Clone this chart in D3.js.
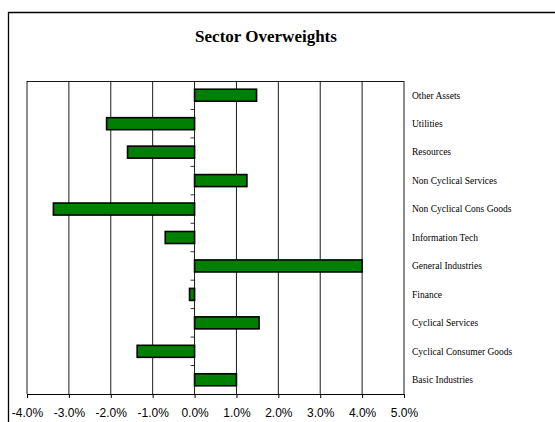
<!DOCTYPE html>
<html>
<head>
<meta charset="utf-8">
<script src="https://cdn.jsdelivr.net/npm/d3@7"></script>
<style>
  html, body { margin: 0; background: #fff; overflow: hidden; }
  svg { display: block; }
</style>
</head>
<body>
<div id="chart"></div>
<script>
// categories listed bottom to top as in the picture
const sectors = ["Basic Industries", "Cyclical Consumer Goods", "Cyclical Services", "Finance",
  "General Industries", "Information Tech", "Non Cyclical Cons Goods", "Non Cyclical Services",
  "Resources", "Utilities", "Other Assets"]
const overweights = [1.0, -1.37, 1.54, -0.12, 4.0, -0.7, -3.37, 1.25, -1.6, -2.1, 1.48]
const xTicks = [-4, -3, -2, -1, 0, 1, 2, 3, 4, 5]

const W = 555, H = 422
const margin = { top: 81, left: 27 }
const width = 404 - 27, height = 394 - 81

const svg = d3.select("#chart").append("svg")
  .attr("width", W)
  .attr("height", H)

// outer chart frame: only the top and left edges are in view
svg.append("path")
  .attr("d", `M8.5,${H} V12.5 H${W}`)
  .attr("fill", "none").attr("stroke", "#000").attr("stroke-width", 1.3)

svg.append("text")
  .attr("x", 266).attr("y", 42)
  .attr("text-anchor", "middle")
  .attr("font-family", "Liberation Serif, Times New Roman, serif")
  .attr("font-weight", "bold").attr("font-size", "17px")
  .text("Sector Overweights")

const g = svg.append("g").attr("transform", `translate(${margin.left},${margin.top})`)

const x = d3.scaleLinear().domain([-4, 5]).range([0, width])
const yb = d3.scaleBand().domain(sectors.slice().reverse()).range([0, height])

// gridlines
g.append("g")
  .selectAll("line")
  .data(xTicks)
  .join("line")
    .attr("x1", d => x(d)).attr("x2", d => x(d))
    .attr("y1", 0).attr("y2", height)
    .attr("stroke", "#000").attr("stroke-width", 0.9)

g.append("line")
  .attr("x1", 0).attr("x2", width).attr("y1", 0.5).attr("y2", 0.5)
  .attr("stroke", "#000").attr("stroke-width", 0.9)

// x axis
const xAxis = g.append("g")
  .attr("transform", `translate(0,${height})`)
  .call(d3.axisBottom(x).tickValues(xTicks).tickSize(4).tickPadding(10)
    .tickFormat(d => d.toFixed(1) + "%"))
xAxis.select(".domain").attr("stroke-width", 1)
xAxis.selectAll("text")
  .attr("font-family", "Liberation Sans, Arial, sans-serif")
  .attr("font-size", "12px")
  .attr("fill", "#000")

// category ticks on the zero line
g.append("g")
  .selectAll("line")
  .data(sectors.slice(1))
  .join("line")
    .attr("x1", x(0) - 4).attr("x2", x(0))
    .attr("y1", d => yb(d) + yb.bandwidth()).attr("y2", d => yb(d) + yb.bandwidth())
    .attr("stroke", "#000").attr("stroke-width", 0.8)

// bars
g.append("g")
  .selectAll("rect")
  .data(sectors.map((s, i) => ({ s, v: overweights[i] })))
  .join("rect")
    .attr("x", d => x(Math.min(0, d.v)))
    .attr("width", d => Math.abs(x(d.v) - x(0)))
    .attr("y", d => yb(d.s) + yb.bandwidth() / 2 - 6)
    .attr("height", 12)
    .attr("fill", "#008000")
    .attr("stroke", "#000").attr("stroke-width", 1.6)

// category labels on the right
g.append("g")
  .selectAll("text")
  .data(sectors)
  .join("text")
    .attr("x", width + 8)
    .attr("y", d => yb(d) + yb.bandwidth() / 2)
    .attr("dy", "0.35em")
    .attr("font-family", "Liberation Serif, Times New Roman, serif")
    .attr("font-size", "9.5px")
    .text(d => d)
</script>
</body>
</html>
